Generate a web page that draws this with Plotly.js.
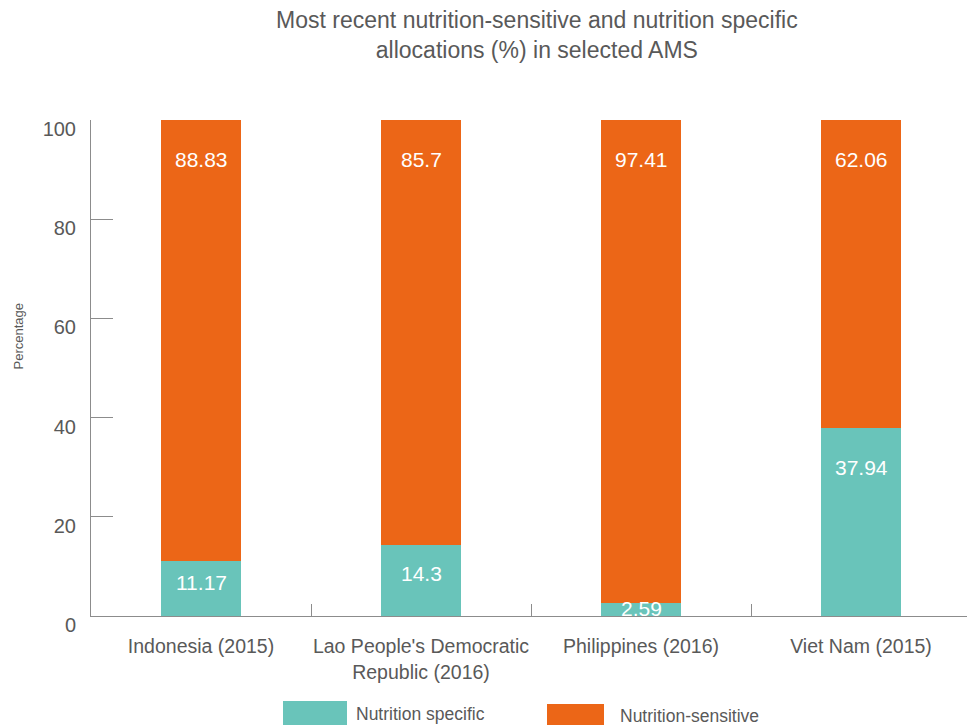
<!DOCTYPE html>
<html>
<head>
<meta charset="utf-8">
<script src="https://cdn.plot.ly/plotly-3.0.1.min.js"></script>
<style>html,body{margin:0;padding:0;background:#fff;}#chart{width:967px;height:725px;}</style>
</head>
<body>
<div id="chart"></div>
<script>
const categories = ["Indonesia (2015)", "Lao People's Democratic<br>Republic (2016)", "Philippines (2016)", "Viet Nam (2015)"];
const specificValues = [11.17, 14.3, 2.59, 37.94];
const sensitiveValues = [88.83, 85.7, 97.41, 62.06];
const seriesNames = ["Nutrition specific", "Nutrition-sensitive"];
const yTicks = [0, 20, 40, 60, 80, 100];

const teal = "#69C4BA";
const orange = "#EC6617";
const textGray = "#595959";
const axisGray = "#8c8c8c";
const font = "Liberation Sans, Arial, sans-serif";

const traces = [
  {type: "bar", name: seriesNames[0], x: categories, y: specificValues, marker: {color: teal}, width: 0.364, hoverinfo: "x+y", showlegend: false},
  {type: "bar", name: seriesNames[1], x: categories, y: sensitiveValues, marker: {color: orange}, width: 0.364, hoverinfo: "x+y", showlegend: false}
];

// data labels drawn through the axes' scales, near the top of each segment
const annotations = [];
function addLabels(base, vals) {
  vals.forEach((v, i) => {
    const b = base ? base[i] : 0;
    const top = b + v;
    annotations.push({
      x: categories[i], y: top - Math.min(v * 0.4, 8), xref: "x", yref: "y",
      text: String(v), showarrow: false, yanchor: "middle",
      font: {family: font, size: 21, color: "#ffffff"}
    });
  });
}
addLabels(null, specificValues);
addLabels(specificValues, sensitiveValues);

// y axis title
annotations.push({xref: "paper", yref: "paper", x: 0, xshift: -82, y: 0.5645, text: "Percentage",
  textangle: -90, showarrow: false, font: {family: font, size: 13, color: textGray}});

// legend
const px = p => (p - 91) / 876;
const py = p => (616 - p) / 496;
const shapes = [
  {type: "rect", xref: "paper", yref: "paper", x0: px(283), x1: px(347), y0: py(730), y1: py(701), fillcolor: teal, line: {width: 0}},
  {type: "rect", xref: "paper", yref: "paper", x0: px(547), x1: px(604), y0: py(730), y1: py(704), fillcolor: orange, line: {width: 0}}
];
annotations.push({xref: "paper", yref: "paper", x: px(354), y: py(714), xanchor: "left", yanchor: "middle",
  text: seriesNames[0], showarrow: false, font: {family: font, size: 17.5, color: textGray}});
annotations.push({xref: "paper", yref: "paper", x: px(618), y: py(716), xanchor: "left", yanchor: "middle",
  text: seriesNames[1], showarrow: false, font: {family: font, size: 17.5, color: textGray}});

const layout = {
  width: 967, height: 725,
  margin: {l: 91, r: 0, t: 120, b: 109},
  paper_bgcolor: "#ffffff", plot_bgcolor: "#ffffff",
  barmode: "stack",
  showlegend: false,
  font: {family: font, color: textGray},
  title: {
    text: "Most recent nutrition-sensitive and nutrition specific<br>allocations (%) in selected AMS",
    font: {family: font, size: 23, color: textGray},
    xref: "paper", x: 0.509, xanchor: "center",
    yref: "container", y: 0.961, yanchor: "top"
  },
  xaxis: {
    type: "category", range: [-0.5, 3.4818], fixedrange: true,
    showline: true, linecolor: axisGray, linewidth: 1,
    ticks: "inside", tickson: "boundaries", ticklen: 12, tickcolor: axisGray, tickwidth: 1,
    tickangle: 0,
    tickfont: {family: font, size: 19.5, color: textGray},
    ticklabelstandoff: 13,
    showgrid: false, zeroline: false
  },
  yaxis: {
    range: [0, 100], tickvals: yTicks, ticktext: yTicks.map(String), fixedrange: true,
    showline: true, linecolor: axisGray, linewidth: 1,
    ticks: "inside", ticklen: 22, tickcolor: axisGray, tickwidth: 1,
    tickfont: {family: font, size: 20, color: textGray},
    ticklabelstandoff: 10, ticklabelshift: 9,
    showgrid: false, zeroline: false
  },
  shapes: shapes,
  annotations: annotations
};

Plotly.newPlot("chart", traces, layout, {displayModeBar: false, staticPlot: true});
</script>
</body>
</html>
